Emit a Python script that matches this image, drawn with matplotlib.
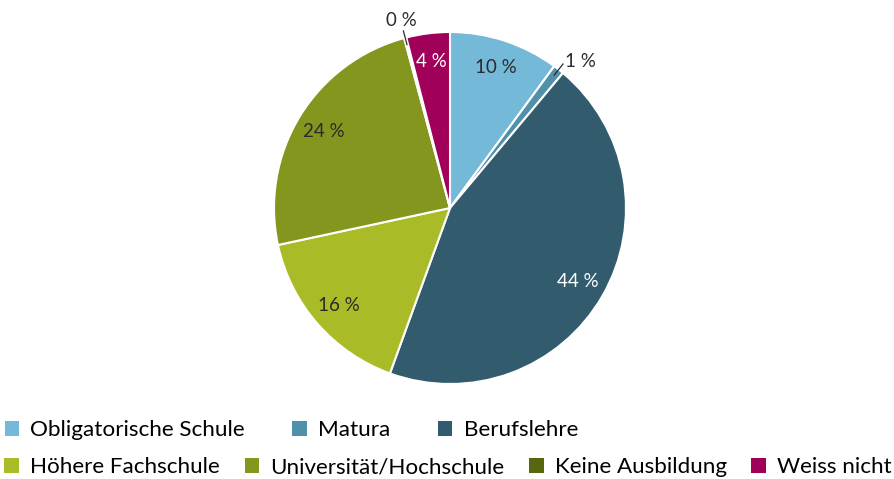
import matplotlib.pyplot as plt
from matplotlib.patches import Patch
import numpy as np

plt.rcParams['font.family'] = ['Lato', 'DejaVu Sans']

categories = ['Obligatorische Schule', 'Matura', 'Berufslehre', 'Höhere Fachschule',
              'Universität/Hochschule', 'Keine Ausbildung', 'Weiss nicht']
values = [10.1, 1.0, 44.5, 16.1, 24.2, 0.2, 4.0]
labels = ['10 %', '1 %', '44 %', '16 %', '24 %', '0 %', '4 %']
colors = ['#74b9d8', '#5190a9', '#325c6e', '#a9bc27', '#85961f', '#56680d', '#a0005a']
label_colors = ['#2b2b2b', '#2b2b2b', 'white', '#2b2b2b', '#2b2b2b', '#2b2b2b', 'white']
outside = [False, True, False, False, False, True, False]

W, H = 895, 479
fig = plt.figure(figsize=(W / 100, H / 100), dpi=100)
ax = fig.add_axes([0, 0, 1, 1])

cx, cy, R = 450, H - 208, 176
ax.pie(values, colors=colors, startangle=90, counterclock=False,
       center=(cx, cy), radius=R,
       wedgeprops=dict(edgecolor='white', linewidth=1.5))

# percentage labels
total = sum(values)
cum = 0
for v, lab, tc, out in zip(values, labels, label_colors, outside):
    mid = (cum + v / 2) / total * 2 * np.pi  # clockwise from top
    cum += v
    sx, sy = np.sin(mid), np.cos(mid)
    if out:
        ex, ey = cx + 1.04 * R * sx, cy + 1.04 * R * sy
        ax.plot([cx + 0.96 * R * sx, ex], [cy + 0.96 * R * sy, ey],
                color='#2b2b2b', lw=0.9)
        if abs(sx) > 0.5:
            ax.text(ex + 2 * np.sign(sx), ey + 3, lab, color=tc, fontsize=13.5,
                    ha='left' if sx > 0 else 'right', va='center')
        else:
            ax.text(ex - 2, ey + 2, lab, color=tc, fontsize=13.5,
                    ha='center', va='bottom')
    else:
        ax.text(cx + 0.84 * R * sx, cy + 0.84 * R * sy, lab, color=tc,
                fontsize=13.5, ha='center', va='center')

ax.set_xlim(0, W)
ax.set_ylim(0, H)
ax.set_aspect('equal')
ax.axis('off')

# legend, two rows
def make_handles(idx):
    return [Patch(facecolor=colors[i], edgecolor='none') for i in idx], [categories[i] for i in idx]

h1, l1 = make_handles([0, 1, 2])
leg1 = ax.legend(h1, l1, ncol=3, loc='upper left', bbox_to_anchor=(0.0, 1 - 416 / H),
                 bbox_transform=fig.transFigure, frameon=False, fontsize=16.2,
                 handlelength=0.65, handleheight=0.65, handletextpad=0.5,
                 columnspacing=2.1, borderaxespad=0, borderpad=0.2)
ax.add_artist(leg1)
h2, l2 = make_handles([3, 4, 5, 6])
ax.legend(h2, l2, ncol=4, loc='upper left', bbox_to_anchor=(0.0, 1 - 453 / H),
          bbox_transform=fig.transFigure, frameon=False, fontsize=16.1,
          handlelength=0.65, handleheight=0.65, handletextpad=0.5,
          columnspacing=1.1, borderaxespad=0, borderpad=0.2)

fig.savefig('out.png', dpi=100)
